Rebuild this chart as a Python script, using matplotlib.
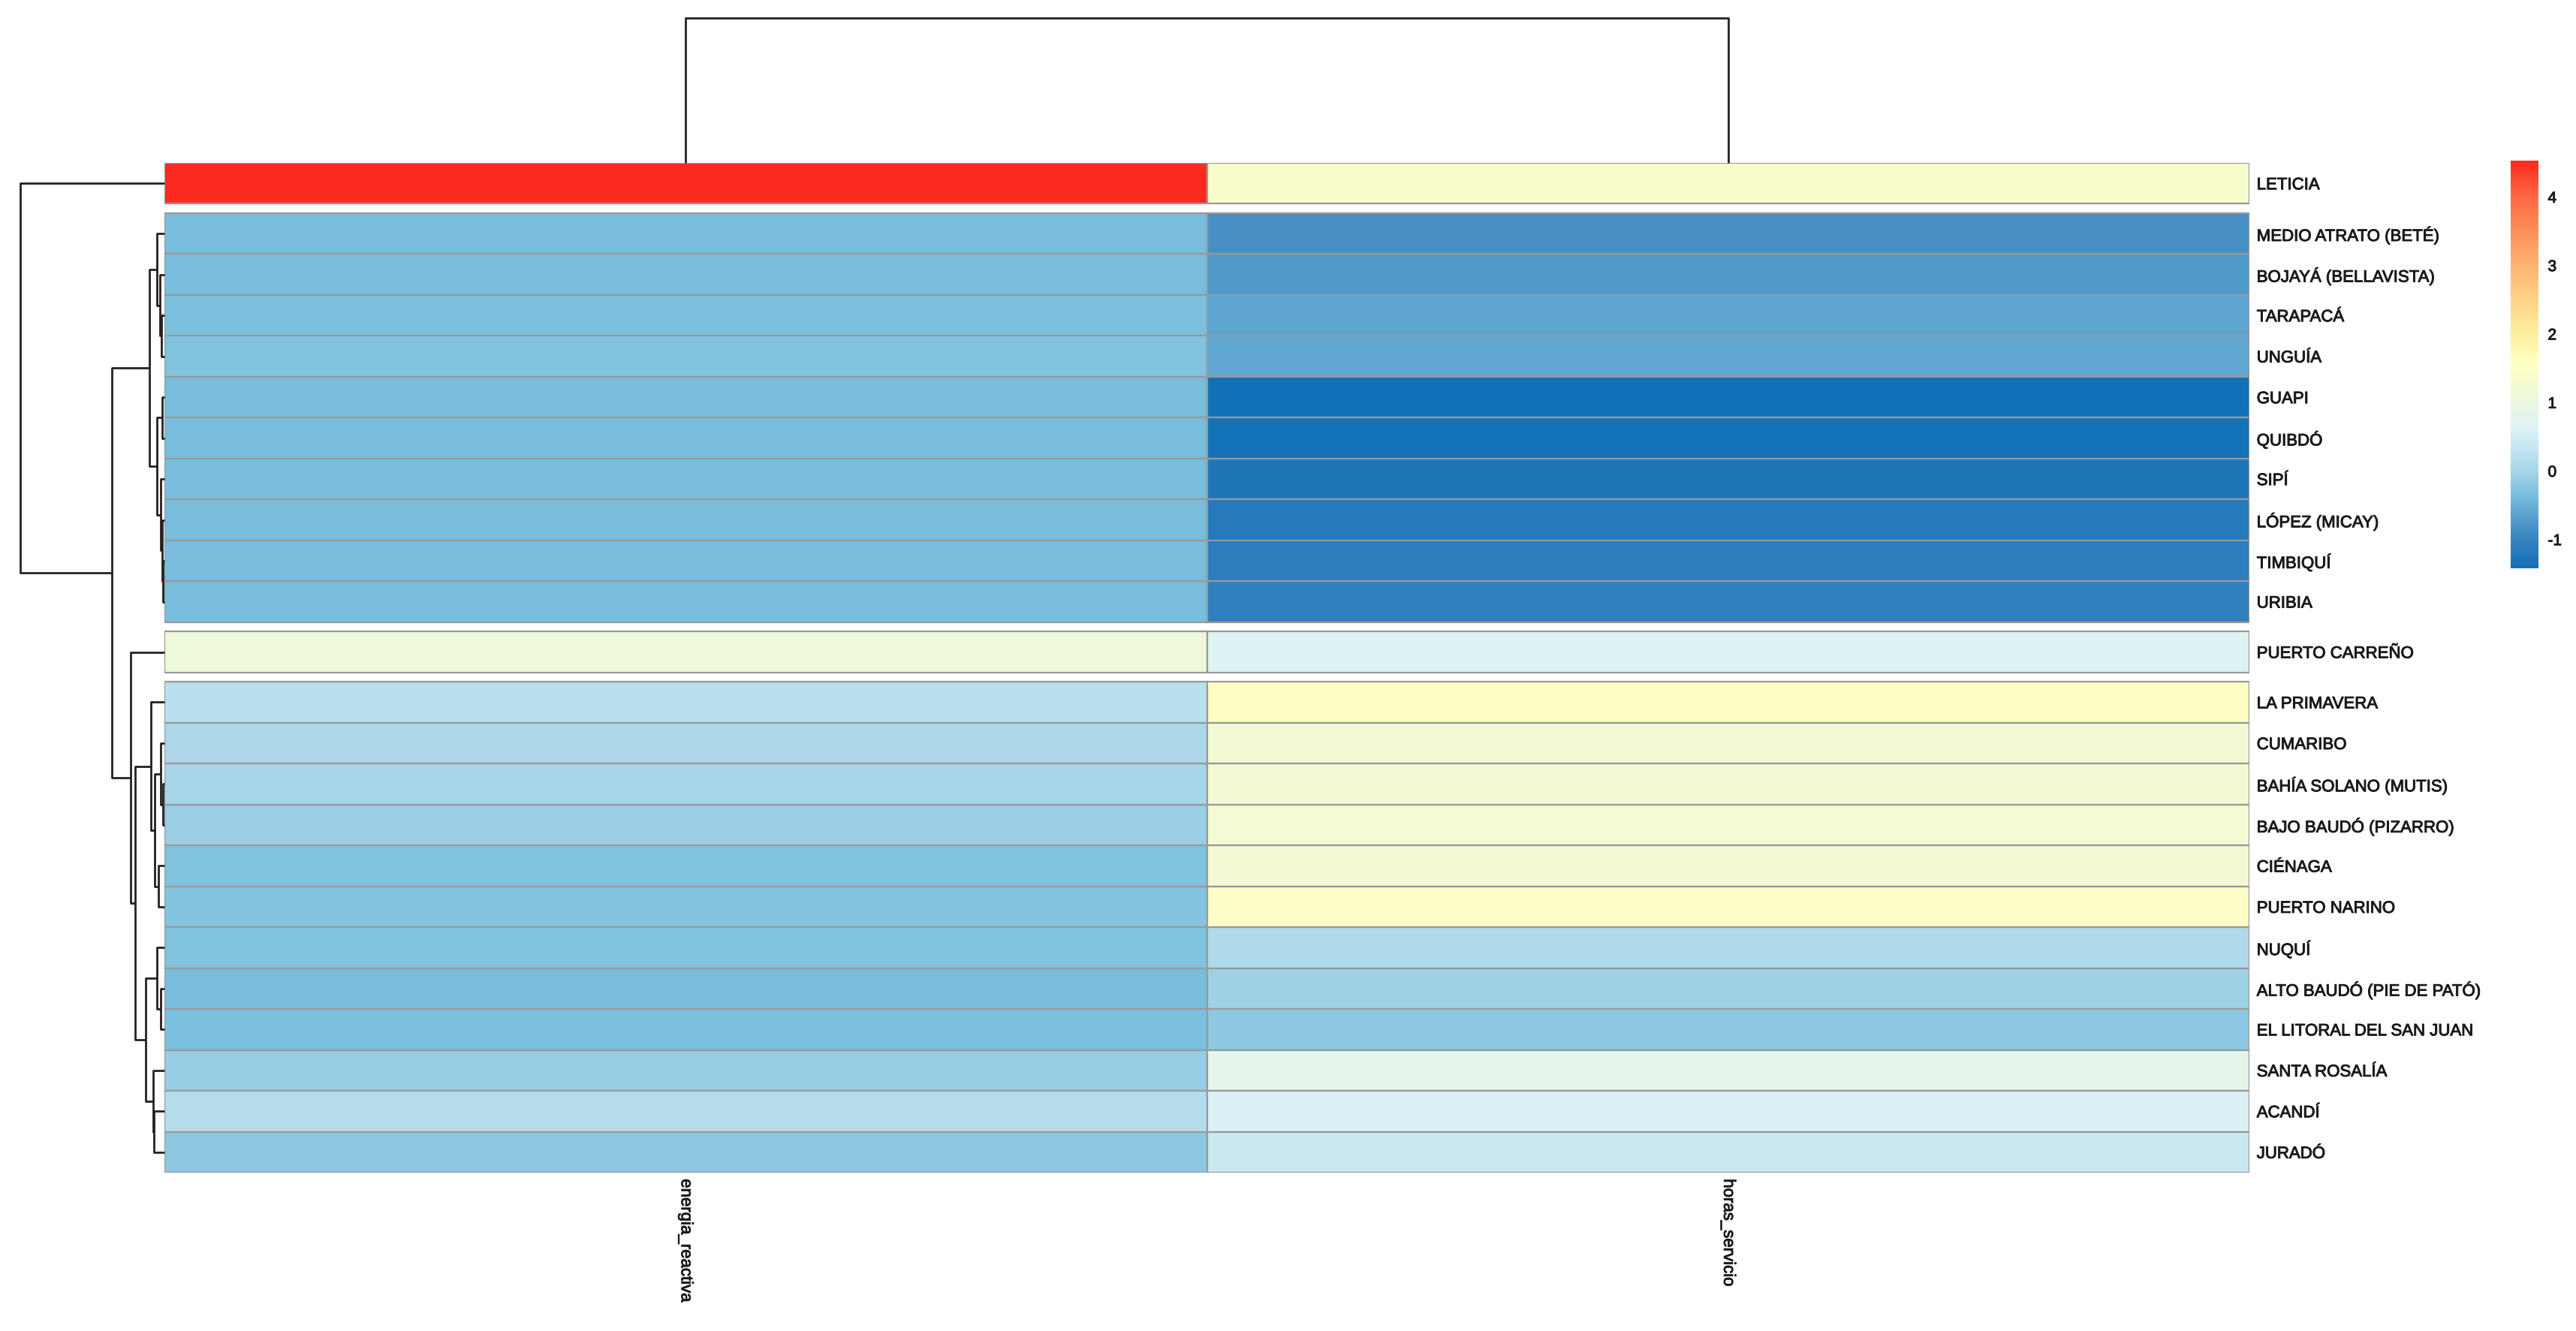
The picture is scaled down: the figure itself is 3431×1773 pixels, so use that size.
import numpy as np
import matplotlib
matplotlib.use("Agg")
import matplotlib.pyplot as plt
import matplotlib.patheffects as pe
from matplotlib.colors import LinearSegmentedColormap, Normalize
from matplotlib.patches import Rectangle
from matplotlib.cm import ScalarMappable

plt.rcParams['font.family'] = ['Liberation Sans', 'DejaVu Sans']
plt.rcParams['axes.unicode_minus'] = False

# scaled values (rows in displayed order)
columns = ["energia_reactiva", "horas_servicio"]
municipios = [
    "LETICIA",
    "MEDIO ATRATO (BETÉ)", "BOJAYÁ (BELLAVISTA)", "TARAPACÁ", "UNGUÍA",
    "GUAPI", "QUIBDÓ", "SIPÍ", "LÓPEZ (MICAY)", "TIMBIQUÍ", "URIBIA",
    "PUERTO CARREÑO",
    "LA PRIMAVERA", "CUMARIBO", "BAHÍA SOLANO (MUTIS)", "BAJO BAUDÓ (PIZARRO)",
    "CIÉNAGA", "PUERTO NARINO", "NUQUÍ", "ALTO BAUDÓ (PIE DE PATÓ)",
    "EL LITORAL DEL SAN JUAN", "SANTA ROSALÍA", "ACANDÍ", "JURADÓ",
]
energia_reactiva = [
    4.53,
    -0.36, -0.36, -0.35, -0.30,
    -0.37, -0.37, -0.37, -0.37, -0.37, -0.37,
    1.10,
    0.22, 0.05, 0.00, -0.10,
    -0.30, -0.27, -0.30, -0.36,
    -0.33, -0.12, 0.15, -0.20,
]
horas_servicio = [
    1.40,
    -0.85, -0.75, -0.62, -0.60,
    -1.42, -1.38, -1.26, -1.20, -1.10, -1.05,
    0.65,
    1.55, 1.20, 1.25, 1.27,
    1.25, 1.50, 0.10, -0.05,
    -0.20, 0.85, 0.60, 0.40,
]

# hierarchical trees: (height, left, right)
row_tree = (192, "LETICIA",
            (70,
             (20,
              (10, "MEDIO ATRATO (BETÉ)",
               (5.5, "BOJAYÁ (BELLAVISTA)", (3.5, "TARAPACÁ", "UNGUÍA"))),
              (10, (2.5, "GUAPI", "QUIBDÓ"),
               (5, "SIPÍ", (3, "LÓPEZ (MICAY)", (1.5, "TIMBIQUÍ", "URIBIA"))))),
             (45, "PUERTO CARREÑO",
              (39.3,
               (18.3, "LA PRIMAVERA",
                (13.3,
                 (5, "CUMARIBO", (2.3, "BAHÍA SOLANO (MUTIS)", "BAJO BAUDÓ (PIZARRO)")),
                 (7.6, "CIÉNAGA", "PUERTO NARINO"))),
               (25,
                (10, "NUQUÍ", (4.7, "ALTO BAUDÓ (PIE DE PATÓ)", "EL LITORAL DEL SAN JUAN")),
                (15, "SANTA ROSALÍA", (14, "ACANDÍ", "JURADÓ")))))))
col_tree = (193, "energia_reactiva", "horas_servicio")
gaps_after = [1, 11, 12]

colorbar_ticks = [-1, 0, 1, 2, 3, 4]
palette_values = [-1.42, -1.0, -0.35, 0.0, 0.6, 1.0, 1.6, 2.0, 3.0, 4.0, 4.53]
palette_colors = ["#1170B6", "#3783C0", "#7BBFDE", "#A8D5E8", "#DCF2F6", "#EBF7E0",
                  "#FFFFBF", "#FEEFA0", "#FDB570", "#FC6A44", "#FB2A1F"]

W, H = 3431, 1773
DPI = 100
# the source image is soft, so text looks a bit heavier
soft = [pe.withStroke(linewidth=0.7, foreground="#1a1a1a")]


def px_axes(fig, x0, y0, x1, y1):
    """axes from pixel box (top-left origin)"""
    return fig.add_axes([x0 / W, (H - y1) / H, (x1 - x0) / W, (y1 - y0) / H])


def draw_tree(ax, node, pos, horizontal):
    """draw dendrogram recursively, returns (position, height) of node"""
    if isinstance(node, str):
        return pos[node], 0.0
    h, left, right = node
    pl, hl = draw_tree(ax, left, pos, horizontal)
    pr, hr = draw_tree(ax, right, pos, horizontal)
    a = [hl, h, h, hr]
    b = [pl, pl, pr, pr]
    if horizontal:
        ax.plot(a, b, color="#222222", lw=2.0, clip_on=False, solid_capstyle="butt")
    else:
        ax.plot(b, a, color="#222222", lw=2.0, clip_on=False, solid_capstyle="butt")
    return (pl + pr) / 2, h


gap = 0.2294
n = len(municipios)
row_y = np.array([i + 0.5 + gap * sum(i >= g for g in gaps_after) for i in range(n)])
y_max = n + gap * len(gaps_after)
row_pos = dict(zip(municipios, row_y))
col_pos = {c: j + 0.5 for j, c in enumerate(columns)}

values = np.column_stack([energia_reactiva, horas_servicio])
vmin, vmax = values.min(), values.max()
norm = Normalize(vmin=vmin, vmax=vmax)
cmap = LinearSegmentedColormap.from_list(
    "heat", [((v - vmin) / (vmax - vmin), c) for v, c in zip(palette_values, palette_colors)])

fig = plt.figure(figsize=(W / DPI, H / DPI), dpi=DPI)

ax = px_axes(fig, 219, 217, 2996, 1562)
for i in range(n):
    for j in range(len(columns)):
        ax.add_patch(Rectangle((j, row_y[i] - 0.5), 1, 1,
                               facecolor=cmap(norm(values[i, j])),
                               edgecolor="#999999", lw=1.6))
ax.set_xlim(0, len(columns))
ax.set_ylim(y_max, 0)
for s in ax.spines.values():
    s.set_visible(False)
ax.yaxis.tick_right()
ax.set_yticks(row_y)
ax.set_yticklabels(municipios, fontsize=16, color="#1a1a1a")
ax.set_xticks([col_pos[c] for c in columns])
ax.set_xticklabels(columns, fontsize=16, rotation=-90, ha="center", va="top", color="#1a1a1a")
ax.tick_params(axis="y", length=0, pad=7)
ax.tick_params(axis="x", length=0, pad=6)
for t in ax.get_xticklabels() + ax.get_yticklabels():
    t.set_path_effects(soft)

# row dendrogram
axr = px_axes(fig, 27, 217, 219, 1562)
draw_tree(axr, row_tree, row_pos, horizontal=True)
axr.set_xlim(row_tree[0], 0)
axr.set_ylim(y_max, 0)
axr.axis("off")

# column dendrogram
axc = px_axes(fig, 219, 24, 2996, 217)
draw_tree(axc, col_tree, col_pos, horizontal=False)
axc.set_xlim(0, len(columns))
axc.set_ylim(0, col_tree[0])
axc.axis("off")

# colour legend
cax = px_axes(fig, 3344, 214, 3381, 757)
cb = fig.colorbar(ScalarMappable(norm=norm, cmap=cmap), cax=cax, ticks=colorbar_ticks)
cb.outline.set_visible(False)
cb.ax.tick_params(length=0, pad=9, labelsize=15, labelcolor="#1a1a1a")
for t in cb.ax.get_yticklabels():
    t.set_path_effects(soft)

fig.savefig("out.png", dpi=DPI, facecolor="white")
